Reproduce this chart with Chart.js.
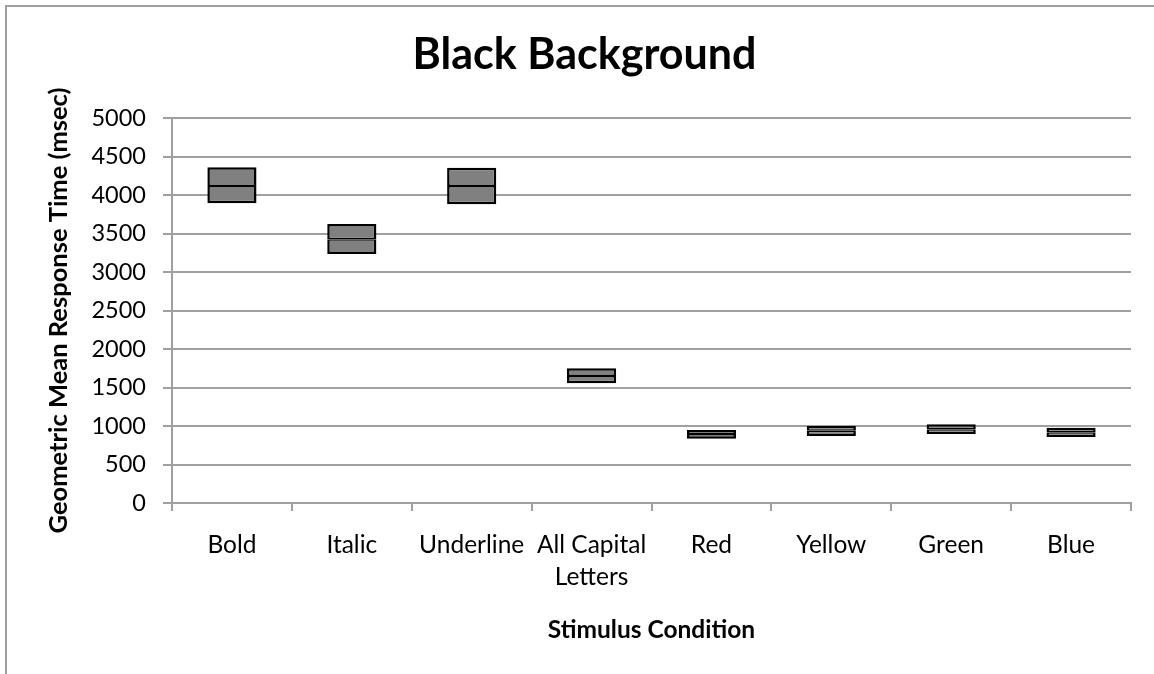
<!DOCTYPE html>
<html>
<head>
<meta charset="utf-8">
<script src="https://cdn.jsdelivr.net/npm/chart.js@4.4.1/dist/chart.umd.min.js"></script>
<style>
  html, body { margin: 0; padding: 0; background: #fff; overflow: hidden; }
  #frame { position: absolute; left: 5px; top: 5px; width: 3000px; height: 3000px;
           border-left: 2px solid #a0a0a0; border-top: 2px solid #a0a0a0; }
  #wrap { position: absolute; left: 0; top: 0; width: 1154px; height: 674px; }
</style>
</head>
<body>
<div id="frame"></div>
<div id="wrap"><canvas id="c" width="1154" height="674"></canvas></div>
<script>
const categories = ["Bold", "Italic", "Underline", ["All Capital", "Letters"], "Red", "Yellow", "Green", "Blue"];
const lowValues  = [3892, 3234, 3879, 1554, 835, 870, 896, 857];
const meanValues = [4117, 3425, 4117, 1649, 896, 939, 957, 918];
const highValues = [4360, 3623, 4355, 1749, 948, 1000, 1022, 978];
const yTicks = [0, 500, 1000, 1500, 2000, 2500, 3000, 3500, 4000, 4500, 5000];

const lowerBox = lowValues.map((v, i) => [v, meanValues[i]]);
const upperBox = meanValues.map((v, i) => [v, highValues[i]]);

const FONT = "Lato, 'Open Sans', sans-serif";

new Chart(document.getElementById('c'), {
  type: 'bar',
  data: {
    labels: categories,
    datasets: [
      {
        label: 'Lower',
        data: lowerBox,
        backgroundColor: '#808080',
        borderColor: '#000000',
        borderWidth: { top: 1.5, bottom: 2.5, left: 2.5, right: 2.5 },
        borderSkipped: false,
        grouped: false,
        categoryPercentage: 1,
        barPercentage: 0.41
      },
      {
        label: 'Upper',
        data: upperBox,
        backgroundColor: '#808080',
        borderColor: '#000000',
        borderWidth: { top: 2.5, bottom: 1.5, left: 2.5, right: 2.5 },
        borderSkipped: false,
        grouped: false,
        categoryPercentage: 1,
        barPercentage: 0.41
      }
    ]
  },
  options: {
    responsive: false,
    animation: false,
    maintainAspectRatio: false,
    layout: { padding: { left: 38, right: 23, top: 0, bottom: 0 } },
    plugins: {
      legend: { display: false },
      tooltip: { enabled: false },
      title: {
        display: true,
        text: 'Black Background',
        color: '#000',
        font: { family: FONT, size: 43, weight: 'bold', lineHeight: 1.2 },
        padding: { top: 29, bottom: 37.4 }
      }
    },
    scales: {
      x: {
        type: 'category',
        offset: true,
        grid: {
          display: true,
          offset: true,
          drawOnChartArea: false,
          drawTicks: true,
          tickLength: 8,
          color: '#a0a0a0',
          lineWidth: 2
        },
        border: { display: true, color: '#a0a0a0', width: 2 },
        ticks: {
          color: '#000',
          font: { family: FONT, size: 24.5, lineHeight: 1.3 },
          padding: 18,
          maxRotation: 0,
          autoSkip: false
        },
        title: {
          display: true,
          text: 'Stimulus Condition',
          color: '#000',
          font: { family: FONT, size: 24.5, weight: 'bold', lineHeight: 1.2 },
          padding: { top: 0, bottom: 29 }
        },
        afterFit: (scale) => { scale.height = 171; }
      },
      y: {
        type: 'linear',
        min: 0,
        max: 5000,
        afterBuildTicks: (scale) => { scale.ticks = yTicks.map(v => ({ value: v })); },
        grid: {
          display: true,
          drawTicks: true,
          tickLength: 9,
          color: '#a0a0a0',
          lineWidth: 2
        },
        border: { display: true, color: '#a0a0a0', width: 2 },
        ticks: {
          color: '#000',
          font: { family: FONT, size: 23.5 },
          padding: 17,
          callback: (v) => String(v)
        },
        title: {
          display: true,
          text: 'Geometric Mean Response Time (msec)',
          color: '#000',
          font: { family: FONT, size: 25.5, weight: 'bold', lineHeight: 1.2 },
          padding: { top: 5, bottom: 0 }
        },
        afterFit: (scale) => { scale.width = 134; }
      }
    }
  }
});
</script>
</body>
</html>
